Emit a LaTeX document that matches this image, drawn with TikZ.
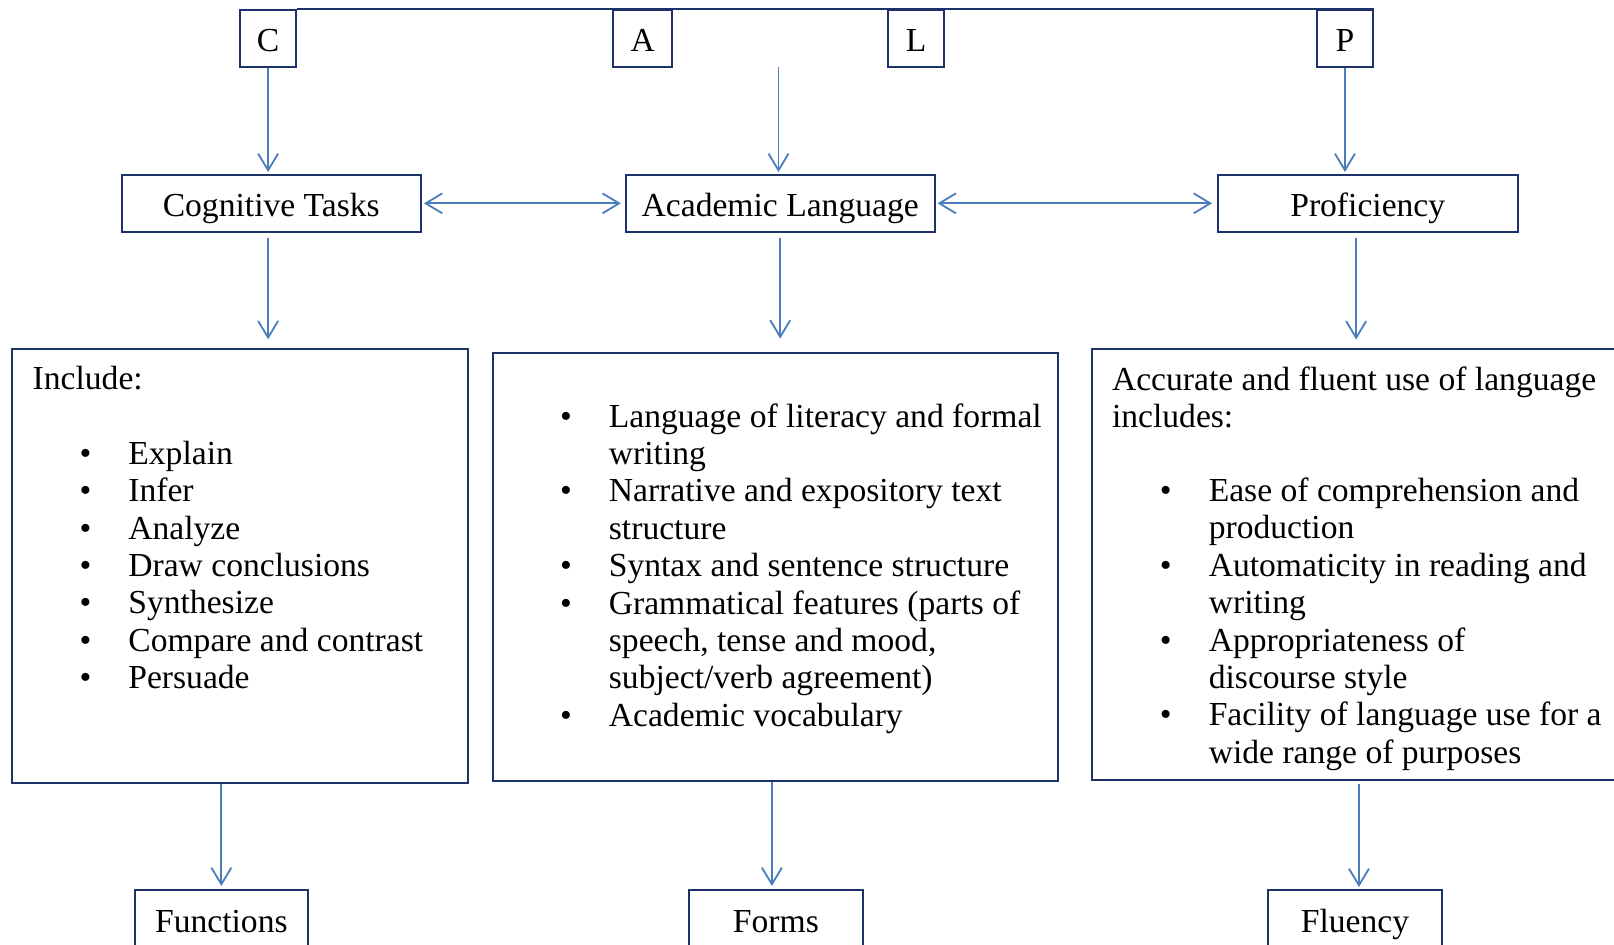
\documentclass[tikz,border=0pt]{standalone}
\usepackage{fontspec}
\setmainfont{Liberation Serif}
\usetikzlibrary{arrows.meta,fit}
\definecolor{boxnavy}{RGB}{28,50,104}
\definecolor{linkblue}{RGB}{74,126,187}
% bullet hung 21.5pt to the left of the item text
\newcommand\bulletmark{\llap{\makebox[0pt]{\textbullet}\hspace{21.5pt}}}
\begin{document}
\begin{tikzpicture}[x=0.5pt,y=-0.5pt,
  every node/.style={inner sep=0pt, font=\fontsize{16.8}{18.7}\selectfont},
  frame/.style={draw=boxnavy, line width=1pt, inner sep=0pt},
  tag/.style={anchor=center, text height=14.45pt, text depth=1.4pt},
  tip/.tip={Straight Barb[length=8.3pt,width=10pt]},
  link/.style={draw=linkblue, line width=0.9pt, -tip},
  twoway/.style={draw=linkblue, line width=0.9pt, tip-tip},
  row/.style={anchor=base west},
]
\useasboundingbox (0,0) rectangle (1614,945);

% letter boxes hanging from the top rule
\node[frame, fit={(239.8,10) (296.4,66.9)}] (C) {};
\node[frame, fit={(613.2,10) (672.2,66.9)}] (A) {};
\node[frame, fit={(888.1,10) (944.3,66.9)}] (L) {};
\node[frame, fit={(1316.6,10) (1373.3,66.9)}] (P) {};
\node[tag] (Ct) at (C.center) {C};
\node[tag] (At) at (A.center) {A};
\node[tag] (Lt) at (L.center) {L};
\node[tag] (Pt) at (P.center) {P};
\draw[boxnavy, line width=1pt] (C.north east) -- (P.north east);

% second row
\node[frame, fit={(121.5,175) (421,231.7)}] (ct) {};
\node[frame, fit={(625.8,175) (934.6,231.7)}] (al) {};
\node[frame, fit={(1218,175) (1517.5,231.7)}] (prof) {};
\node[tag] (ctt) at (ct.center) {Cognitive Tasks};
\node[tag] (alt) at (al.center) {Academic Language};
\node[tag] (proft) at (prof.center) {Proficiency};

% third row
\node[frame, fit={(11.7,349.3) (467.5,783.3)}] (inc) {};
\node[frame, fit={(492.6,352.6) (1058,781.2)}] (mid) {};
\node[frame, fit={(1092,349.5) (1650,780.5)}] (rbox) {};

% bottom row
\node[frame, fit={(135,890) (307.7,948)}] (func) {};
\node[frame, fit={(689.2,890) (862.6,948)}] (forms) {};
\node[frame, fit={(1268.3,890) (1441.6,948)}] (flu) {};
\node[tag] (funct) at (func.center) {Functions};
\node[tag] (formst) at (forms.center) {Forms};
\node[tag] (flut) at (flu.center) {Fluency};

% text of the left box
\node[row] (inc0) at (32.3,389.3) {Include:};
\node[row] (inc1) at (128,464.3) {\bulletmark Explain};
\node[row] (inc2) at (128,501.7) {\bulletmark Infer};
\node[row] (inc3) at (128,539.1) {\bulletmark Analyze};
\node[row] (inc4) at (128,576.5) {\bulletmark Draw conclusions};
\node[row] (inc5) at (128,613.9) {\bulletmark Synthesize};
\node[row] (inc6) at (128,651.3) {\bulletmark Compare and contrast};
\node[row] (inc7) at (128,688.7) {\bulletmark Persuade};

% text of the middle box
\node[row] (mid1) at (608.5,427.2) {\bulletmark Language of literacy and formal};
\node[row] (mid2) at (608.5,464.6) {writing};
\node[row] (mid3) at (608.5,502.0) {\bulletmark Narrative and expository text};
\node[row] (mid4) at (608.5,539.4) {structure};
\node[row] (mid5) at (608.5,576.8) {\bulletmark Syntax and sentence structure};
\node[row] (mid6) at (608.5,614.2) {\bulletmark Grammatical features (parts of};
\node[row] (mid7) at (608.5,651.6) {speech, tense and mood,};
\node[row] (mid8) at (608.5,689.0) {subject/verb agreement)};
\node[row] (mid9) at (608.5,726.4) {\bulletmark Academic vocabulary};

% text of the right box
\node[row] (rb0) at (1111.6,390.3) {Accurate and fluent use of language};
\node[row] (rb00) at (1111.6,427.7) {includes:};
\node[row] (rb1) at (1208.4,501.5) {\bulletmark Ease of comprehension and};
\node[row] (rb2) at (1208.4,538.9) {production};
\node[row] (rb3) at (1208.4,576.3) {\bulletmark Automaticity in reading and};
\node[row] (rb4) at (1208.4,613.7) {writing};
\node[row] (rb5) at (1208.4,651.1) {\bulletmark Appropriateness of};
\node[row] (rb6) at (1208.4,688.5) {discourse style};
\node[row] (rb7) at (1208.4,725.9) {\bulletmark Facility of language use for a};
\node[row] (rb8) at (1208.4,763.3) {wide range of purposes};

% connectors from the letters
\coordinate (alfeed) at (778.5,67);
\draw[link, shorten >=1pt] (C.south) -- (C.south |- ct.north);
\draw[link, shorten >=1pt] (alfeed) -- (alfeed |- al.north);
\draw[link, shorten >=1pt] (P.south) -- (P.south |- prof.north);

% links between the three headings
\draw[twoway, shorten <=1pt, shorten >=2pt] (ct.east) -- (al.west);
\draw[twoway, shorten <=1pt, shorten >=2.5pt] (al.east) -- (prof.west);

% headings to their boxes
\draw[link, shorten <=2.5pt, shorten >=4.5pt] (C.south |- ct.south) -- (C.south |- inc.north);
\draw[link, shorten <=2.5pt, shorten >=6.5pt] (al.south) -- (al.south |- mid.north);
\draw[link, shorten <=2.5pt, shorten >=4.5pt] ([xshift=-5.8pt]prof.south) -- ([xshift=-5.8pt]prof.south |- rbox.north);

% boxes to the bottom row
\draw[link, shorten >=1.5pt] (func.north |- inc.south) -- (func.north);
\draw[link, shorten >=1.5pt] ([xshift=-2pt]forms.north |- mid.south) -- ([xshift=-2pt]forms.north);
\draw[link, shorten <=1.5pt, shorten >=1pt] ([xshift=2pt]flu.north |- rbox.south) -- ([xshift=2pt]flu.north);
\end{tikzpicture}
\end{document}
